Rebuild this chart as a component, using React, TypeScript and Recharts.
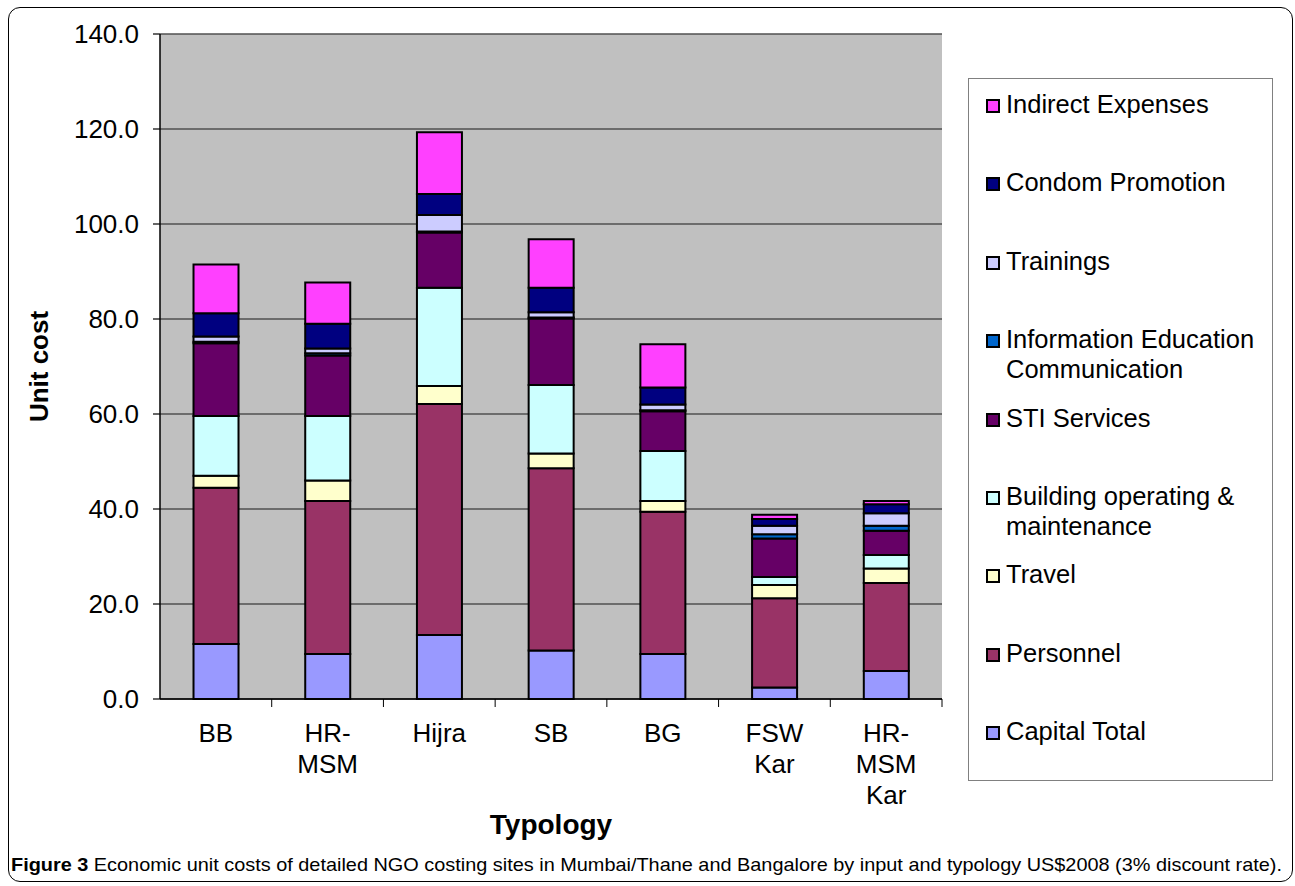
import React from "react";
import { Bar, BarChart, CartesianGrid, XAxis, YAxis } from "recharts";

const categories = ["BB", "HR-MSM", "Hijra", "SB", "BG", "FSW Kar", "HR-MSM Kar"];
const categoryLines = [["BB"], ["HR-", "MSM"], ["Hijra"], ["SB"], ["BG"], ["FSW", "Kar"], ["HR-", "MSM", "Kar"]];

const capital = [11.6, 9.5, 13.5, 10.2, 9.5, 2.4, 5.9];
const personnel = [32.9, 32.2, 48.6, 38.4, 29.9, 18.8, 18.5];
const travel = [2.5, 4.3, 3.8, 3.1, 2.3, 2.8, 3.1];
const building = [12.6, 13.6, 20.7, 14.4, 10.5, 1.7, 2.8];
const sti = [15.3, 12.7, 11.6, 14.0, 8.4, 8.1, 5.1];
const iec = [0.3, 0.5, 0.2, 0.2, 0.2, 0.9, 1.1];
const trainings = [1.1, 1.0, 3.5, 1.1, 1.2, 1.8, 2.6];
const condom = [4.9, 5.2, 4.4, 5.2, 3.6, 1.4, 1.9];
const indirect = [10.3, 8.7, 13.0, 10.2, 9.1, 0.9, 0.7];

const yTicks = [0, 20, 40, 60, 80, 100, 120, 140];

// bottom of stack first
const series = [
  { key: "capital", label: ["Capital Total"], color: "#9999FF", values: capital },
  { key: "personnel", label: ["Personnel"], color: "#993366", values: personnel },
  { key: "travel", label: ["Travel"], color: "#FFFFCC", values: travel },
  { key: "building", label: ["Building operating &", "maintenance"], color: "#CCFFFF", values: building },
  { key: "sti", label: ["STI Services"], color: "#660066", values: sti },
  { key: "iec", label: ["Information Education", "Communication"], color: "#0066CC", values: iec },
  { key: "trainings", label: ["Trainings"], color: "#CCCCFF", values: trainings },
  { key: "condom", label: ["Condom Promotion"], color: "#000080", values: condom },
  { key: "indirect", label: ["Indirect Expenses"], color: "#FF40FF", values: indirect },
];

const data = categories.map((name, i) => {
  const row: Record<string, any> = { name };
  series.forEach((s) => (row[s.key] = s.values[i]));
  return row;
});

const FONT = "'Liberation Sans', Arial, sans-serif";

function CategoryTick(props: any) {
  const { x, y, payload, index } = props;
  const half = payload.offset ?? 56;
  const lines = categoryLines[index] ?? [String(payload.value)];
  return (
    <g>
      <line x1={x + half} x2={x + half} y1={y - 8} y2={y} stroke="#000" strokeWidth={1} />
      <text x={x} y={y} textAnchor="middle" fontFamily={FONT} fontSize={26} fill="#000">
        {lines.map((l: string, i: number) => (
          <tspan key={i} x={x} dy={i === 0 ? 35 : 31}>
            {l}
          </tspan>
        ))}
      </text>
    </g>
  );
}

function YTitle(props: any) {
  const vb = props.viewBox || { x: 4, y: 34, width: 156, height: 665 };
  const cx = 39;
  const cy = vb.y + vb.height / 2;
  return (
    <text
      x={cx}
      y={cy}
      transform={`rotate(-90, ${cx}, ${cy})`}
      textAnchor="middle"
      dominantBaseline="central"
      fontFamily={FONT}
      fontSize={26}
      fontWeight="bold"
      fill="#000"
    >
      Unit cost
    </text>
  );
}

function LegendBox() {
  const items = [...series].reverse();
  return (
    <div
      style={{
        position: "absolute",
        left: 968,
        top: 78,
        width: 305,
        height: 703,
        border: "1.5px solid #808080",
        boxSizing: "border-box",
        background: "#fff",
      }}
    >
      {items.map((s, i) => (
        <div
          key={s.key}
          style={{
            position: "absolute",
            left: 17,
            top: 10 + i * 78.4,
            display: "flex",
            alignItems: "flex-start",
            fontFamily: FONT,
            fontSize: 25.5,
            lineHeight: "30px",
            color: "#000",
            whiteSpace: "nowrap",
          }}
        >
          <span
            style={{
              display: "inline-block",
              width: 10,
              height: 10,
              marginTop: 10,
              marginRight: 6,
              background: s.color,
              border: "2px solid #000",
            }}
          />
          <span>
            {s.label.map((l, j) => (
              <div key={j}>{l}</div>
            ))}
          </span>
        </div>
      ))}
    </div>
  );
}

export default function App() {
  return (
    <div style={{ position: "absolute", left: 0, top: 0, width: 1295, height: 886, background: "#fff" }}>
      <div
        style={{
          position: "absolute",
          left: 8,
          top: 7,
          width: 1285,
          height: 875,
          border: "1.5px solid #000",
          borderRadius: 12,
          boxSizing: "border-box",
        }}
      />
      <div style={{ position: "absolute", left: 0, top: 0 }}>
        <BarChart
          width={1295}
          height={886}
          data={data}
          margin={{ top: 34, right: 353, left: 4, bottom: 0 }}
          barCategoryGap="30%"
        >
          <CartesianGrid fill="#C0C0C0" vertical={false} stroke="#505050" strokeWidth={1.5} />
          <XAxis
            dataKey="name"
            height={187}
            tickSize={8}
            tickMargin={0}
            tickLine={false}
            interval={0}
            axisLine={{ stroke: "#000", strokeWidth: 1.5 }}
            tick={<CategoryTick />}
            label={{
              value: "Typology",
              position: "insideBottom",
              offset: 52,
              fontFamily: FONT,
              fontSize: 28,
              fontWeight: "bold",
              fill: "#000",
            }}
          />
          <YAxis
            width={156}
            domain={[0, 140]}
            ticks={yTicks}
            interval={0}
            tickSize={7}
            tickMargin={14}
            tickFormatter={(v: number) => v.toFixed(1)}
            axisLine={{ stroke: "#000", strokeWidth: 1.5 }}
            tickLine={{ stroke: "#000", strokeWidth: 1.2 }}
            tick={{ fontFamily: FONT, fontSize: 26, fill: "#000" }}
            label={<YTitle />}
          />
          {series.map((s) => (
            <Bar
              key={s.key}
              dataKey={s.key}
              stackId="a"
              fill={s.color}
              stroke="#000"
              strokeWidth={2}
              isAnimationActive={false}
            />
          ))}
        </BarChart>
      </div>
      <LegendBox />
      <svg style={{ position: "absolute", left: 0, top: 0 }} width={1295} height={886} pointerEvents="none">
        <text
          x={11}
          y={871}
          fontFamily={FONT}
          fontSize={19}
          fill="#000"
          textLength={1271}
          lengthAdjust="spacingAndGlyphs"
        >
          <tspan fontWeight="bold">Figure 3</tspan>
          <tspan> Economic unit costs of detailed NGO costing sites in Mumbai/Thane and Bangalore by input and typology US$2008 (3% discount rate).</tspan>
        </text>
      </svg>
    </div>
  );
}
